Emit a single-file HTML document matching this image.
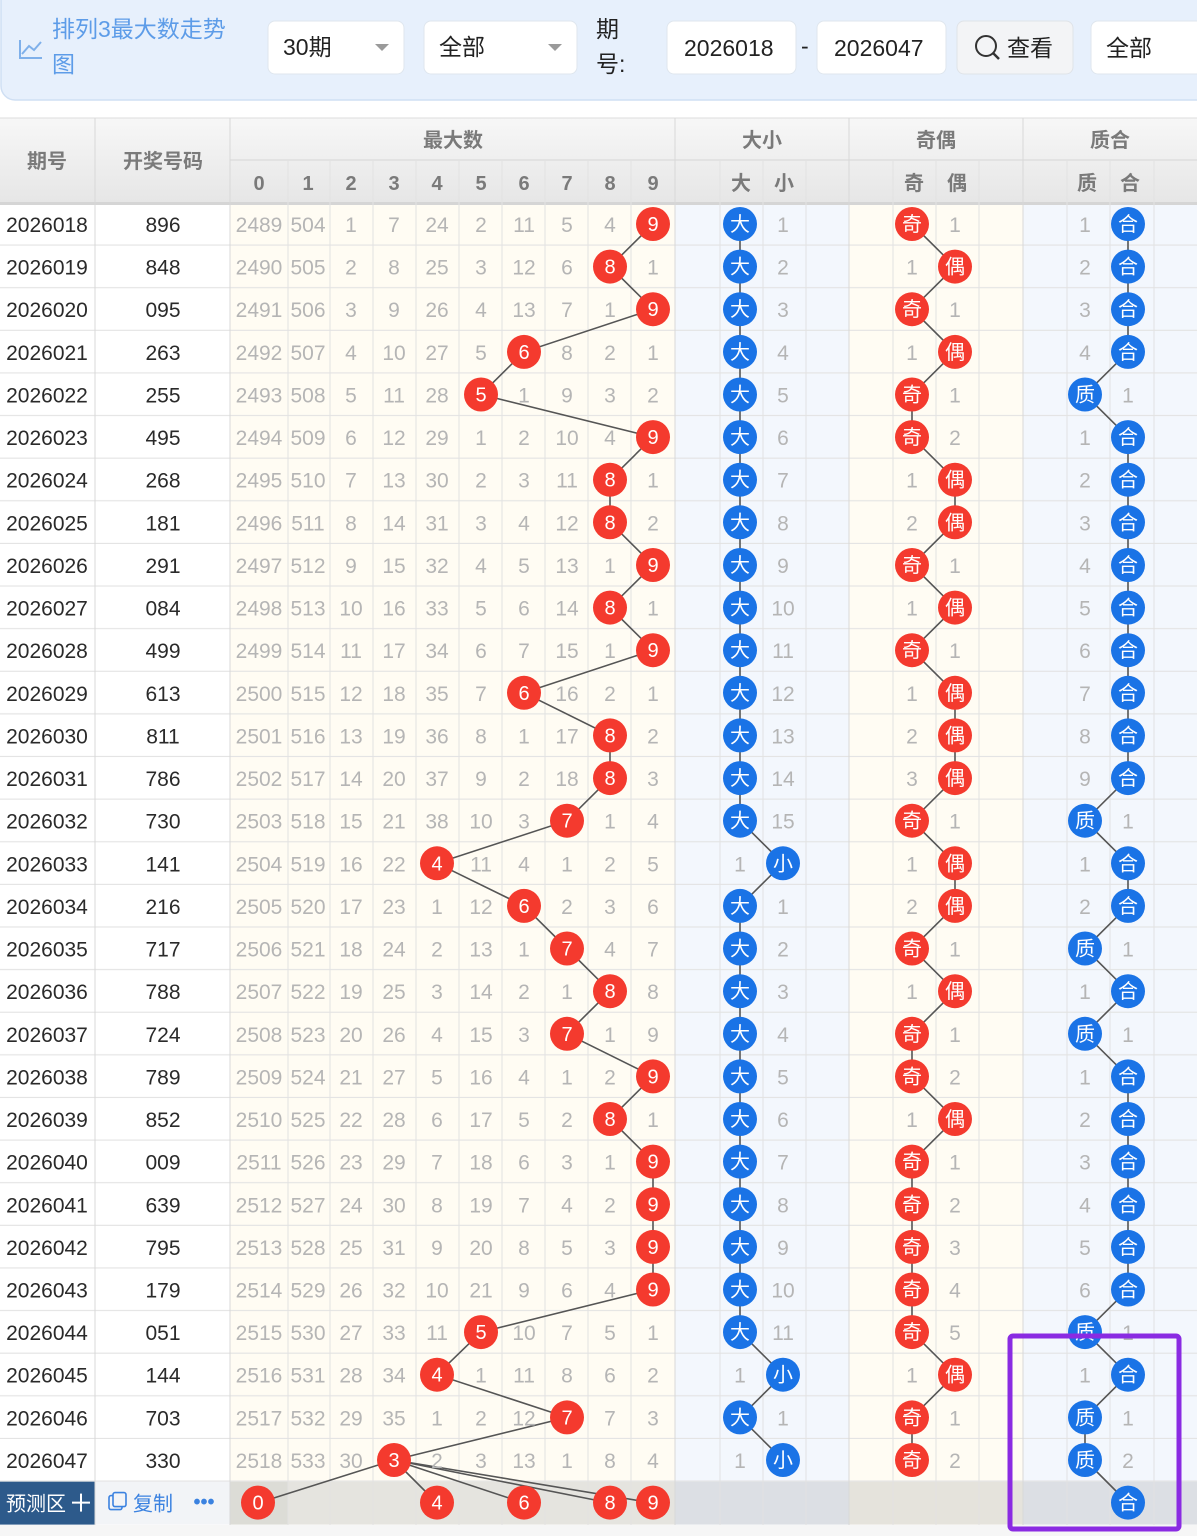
<!DOCTYPE html>
<html><head><meta charset="utf-8">
<style>
html,body{margin:0;padding:0;background:#fff;}
svg{display:block;}
text{font-family:"Liberation Sans","Noto Sans CJK SC",sans-serif;font-size:21px;text-anchor:middle;fill:#b5b5b5;}
text.k{fill:#2a2a2a;}
text.w{fill:#fff;font-size:20px;}
text.h{fill:#7a7a7a;font-weight:bold;font-size:20px;}
text.t{text-anchor:start;fill:#222;font-size:23px;}
circle{r:17px;}
circle.r{fill:#f43a2e;}
circle.b{fill:#1a73e6;}
g.row text{dominant-baseline:auto;}
</style></head><body>
<svg width="1197" height="1536" viewBox="0 0 1197 1536" xmlns="http://www.w3.org/2000/svg">
<defs>
<linearGradient id="hg" x1="0" y1="0" x2="0" y2="1"><stop offset="0" stop-color="#f7f7f7"/><stop offset="1" stop-color="#e6e6e6"/></linearGradient>
<pattern id="hl" x="0" y="203" width="1197" height="42.62" patternUnits="userSpaceOnUse"><line x1="0" y1="42.1" x2="1197" y2="42.1" stroke="#e3e3e3" stroke-width="1.2"/></pattern>
</defs>
<!-- top bar -->
<rect x="1" y="-20" width="1230" height="120" rx="14" fill="#e7f0fc" stroke="#cfdff3" stroke-width="1.5"/>
<polyline points="20,40 20,58 42,58" fill="none" stroke="#7fb0ea" stroke-width="2"/>
<polyline points="22,54 29,46 34,50 41,42" fill="none" stroke="#7fb0ea" stroke-width="2"/>
<text class="t" x="52" y="37" style="fill:#5d9ce8">排列3最大数走势</text>
<text class="t" x="52" y="72" style="fill:#5d9ce8">图</text>
<rect x="268" y="21" width="136" height="53" rx="7" fill="#fff" stroke="#dfe6ee"/>
<text class="t" x="283" y="55">30期</text>
<polygon points="375,44 389,44 382,51" fill="#9a9a9a"/>
<rect x="424" y="21" width="153" height="53" rx="7" fill="#fff" stroke="#dfe6ee"/>
<text class="t" x="439" y="55">全部</text>
<polygon points="548,44 562,44 555,51" fill="#9a9a9a"/>
<text class="t" x="596" y="37">期</text>
<text class="t" x="596" y="72">号:</text>
<rect x="667" y="21" width="129" height="53" rx="7" fill="#fff" stroke="#dfe6ee"/>
<text class="t" x="684" y="56">2026018</text>
<text class="t" x="801" y="54">-</text>
<rect x="817" y="21" width="129" height="53" rx="7" fill="#fff" stroke="#dfe6ee"/>
<text class="t" x="834" y="56">2026047</text>
<rect x="957" y="21" width="116" height="53" rx="7" fill="#f3f4f6" stroke="#dfe3e8"/>
<circle cx="986" cy="46" style="r:10px" fill="none" stroke="#333" stroke-width="2"/>
<line x1="993" y1="53" x2="999" y2="59" stroke="#333" stroke-width="2.5"/>
<text class="t" x="1007" y="56">查看</text>
<rect x="1091" y="21" width="130" height="53" rx="7" fill="#fff" stroke="#dfe6ee"/>
<text class="t" x="1106" y="56">全部</text>
<!-- backgrounds -->
<rect x="0" y="203" width="230" height="1279" fill="#fff"/>
<rect x="230" y="203" width="445" height="1279" fill="#fffcf3"/>
<rect x="675" y="203" width="174" height="1279" fill="#f3f7fd"/>
<rect x="849" y="203" width="174" height="1279" fill="#fffcf3"/>
<rect x="1023" y="203" width="174" height="1279" fill="#f3f7fd"/>
<rect x="0" y="1481.6" width="95" height="43" fill="#2d5a8b"/>
<rect x="95" y="1481.6" width="135" height="43" fill="#f2f4f7"/>
<rect x="230" y="1481.6" width="58" height="43" fill="#dcdcd6"/>
<rect x="288" y="1481.6" width="387" height="43" fill="#e5e4df"/>
<rect x="675" y="1481.6" width="174" height="43" fill="#dcdfe4"/>
<rect x="849" y="1481.6" width="174" height="43" fill="#e5e3dc"/>
<rect x="1023" y="1481.6" width="174" height="43" fill="#dcdfe4"/>
<rect x="0" y="1525" width="1197" height="11" fill="#f6f6f6"/>
<rect x="0" y="203" width="1197" height="1279" fill="url(#hl)"/>
<!-- header -->
<rect x="0" y="118" width="1197" height="85" fill="url(#hg)"/>
<line x1="0" y1="118" x2="1197" y2="118" stroke="#dcdcdc"/>
<line x1="230" y1="160" x2="1197" y2="160" stroke="#d6d6d6"/>
<rect x="0" y="202" width="1197" height="3" fill="#d5d5d5"/>
<g stroke="#d8d8d8" stroke-width="1">
<line x1="95" y1="118" x2="95" y2="1525"/><line x1="230" y1="118" x2="230" y2="1525"/>
<line x1="675" y1="118" x2="675" y2="1525"/><line x1="849" y1="118" x2="849" y2="1525"/>
<line x1="1023" y1="118" x2="1023" y2="1525"/>
</g>
<g stroke="#e2e2e2" stroke-width="1">
<line x1="288" y1="160" x2="288" y2="1525"/><line x1="330" y1="160" x2="330" y2="1525"/>
<line x1="373" y1="160" x2="373" y2="1525"/><line x1="416" y1="160" x2="416" y2="1525"/>
<line x1="459" y1="160" x2="459" y2="1525"/><line x1="502" y1="160" x2="502" y2="1525"/>
<line x1="545" y1="160" x2="545" y2="1525"/><line x1="588" y1="160" x2="588" y2="1525"/>
<line x1="631" y1="160" x2="631" y2="1525"/><line x1="720" y1="160" x2="720" y2="1525"/>
<line x1="763" y1="160" x2="763" y2="1525"/><line x1="806" y1="160" x2="806" y2="1525"/>
<line x1="893" y1="160" x2="893" y2="1525"/><line x1="936" y1="160" x2="936" y2="1525"/>
<line x1="979" y1="160" x2="979" y2="1525"/><line x1="1067" y1="160" x2="1067" y2="1525"/>
<line x1="1110" y1="160" x2="1110" y2="1525"/><line x1="1154" y1="160" x2="1154" y2="1525"/>
</g>
<text class="h" x="47" y="168">期号</text>
<text class="h" x="163" y="168">开奖号码</text>
<text class="h" x="453" y="147">最大数</text>
<text class="h" x="762" y="147">大小</text>
<text class="h" x="936" y="147">奇偶</text>
<text class="h" x="1110" y="147">质合</text>
<text class="h" x="259" y="190">0</text><text class="h" x="308" y="190">1</text><text class="h" x="351" y="190">2</text><text class="h" x="394" y="190">3</text><text class="h" x="437" y="190">4</text><text class="h" x="481" y="190">5</text><text class="h" x="524" y="190">6</text><text class="h" x="567" y="190">7</text><text class="h" x="610" y="190">8</text><text class="h" x="653" y="190">9</text>
<text class="h" x="741" y="190">大</text><text class="h" x="784" y="190">小</text>
<text class="h" x="914" y="190">奇</text><text class="h" x="957" y="190">偶</text>
<text class="h" x="1087" y="190">质</text><text class="h" x="1130" y="190">合</text>
<!-- trend lines -->
<g fill="none" stroke="#555" stroke-width="1.6">
<polyline points="653,224 610,266.6 653,309.2 524,351.9 481,394.5 653,437.1 610,479.7 610,522.3 653,565 610,607.6 653,650.2 524,692.8 610,735.4 610,778.1 567,820.7 437,863.3 524,905.9 567,948.5 610,991.2 567,1033.8 653,1076.4 610,1119 653,1161.6 653,1204.3 653,1246.9 653,1289.5 481,1332.1 437,1374.7 567,1417.4 394,1460"/>
<line x1="394" y1="1460" x2="258" y2="1503"/><line x1="394" y1="1460" x2="437" y2="1503"/><line x1="394" y1="1460" x2="524" y2="1503"/><line x1="394" y1="1460" x2="610" y2="1503"/><line x1="394" y1="1460" x2="653" y2="1503"/>
<polyline points="740,224 740,820.7 783,863.3 740,905.9 740,1332.1 783,1374.7 740,1417.4 783,1460"/>
<polyline points="912,224 955,266.6 912,309.2 955,351.9 912,394.5 912,437.1 955,479.7 955,522.3 912,565 955,607.6 912,650.2 955,692.8 955,735.4 955,778.1 912,820.7 955,863.3 955,905.9 912,948.5 955,991.2 912,1033.8 912,1076.4 955,1119 912,1161.6 912,1204.3 912,1246.9 912,1289.5 912,1332.1 955,1374.7 912,1417.4 912,1460"/>
<polyline points="1128,224 1128,351.9 1085,394.5 1128,437.1 1128,778.1 1085,820.7 1128,863.3 1128,905.9 1085,948.5 1128,991.2 1085,1033.8 1128,1076.4 1128,1289.5 1085,1332.1 1128,1374.7 1085,1417.4 1085,1460 1128,1503"/>
</g>
<!-- rows -->
<g class="row" transform="translate(0,203)"><text class="k" x="47" y="29">2026018</text><text class="k" x="163" y="29">896</text><text x="259" y="29">2489</text><text x="308" y="29">504</text><text x="351" y="29">1</text><text x="394" y="29">7</text><text x="437" y="29">24</text><text x="481" y="29">2</text><text x="524" y="29">11</text><text x="567" y="29">5</text><text x="610" y="29">4</text><circle class="r" cx="653" cy="21"/><text class="w" x="653" y="28">9</text><circle class="b" cx="740" cy="21"/><text class="w" x="740" y="28">大</text><text x="783" y="29">1</text><circle class="r" cx="912" cy="21"/><text class="w" x="912" y="28">奇</text><text x="955" y="29">1</text><text x="1085" y="29">1</text><circle class="b" cx="1128" cy="21"/><text class="w" x="1128" y="28">合</text></g>
<g class="row" transform="translate(0,245.6)"><text class="k" x="47" y="29">2026019</text><text class="k" x="163" y="29">848</text><text x="259" y="29">2490</text><text x="308" y="29">505</text><text x="351" y="29">2</text><text x="394" y="29">8</text><text x="437" y="29">25</text><text x="481" y="29">3</text><text x="524" y="29">12</text><text x="567" y="29">6</text><circle class="r" cx="610" cy="21"/><text class="w" x="610" y="28">8</text><text x="653" y="29">1</text><circle class="b" cx="740" cy="21"/><text class="w" x="740" y="28">大</text><text x="783" y="29">2</text><text x="912" y="29">1</text><circle class="r" cx="955" cy="21"/><text class="w" x="955" y="28">偶</text><text x="1085" y="29">2</text><circle class="b" cx="1128" cy="21"/><text class="w" x="1128" y="28">合</text></g>
<g class="row" transform="translate(0,288.2)"><text class="k" x="47" y="29">2026020</text><text class="k" x="163" y="29">095</text><text x="259" y="29">2491</text><text x="308" y="29">506</text><text x="351" y="29">3</text><text x="394" y="29">9</text><text x="437" y="29">26</text><text x="481" y="29">4</text><text x="524" y="29">13</text><text x="567" y="29">7</text><text x="610" y="29">1</text><circle class="r" cx="653" cy="21"/><text class="w" x="653" y="28">9</text><circle class="b" cx="740" cy="21"/><text class="w" x="740" y="28">大</text><text x="783" y="29">3</text><circle class="r" cx="912" cy="21"/><text class="w" x="912" y="28">奇</text><text x="955" y="29">1</text><text x="1085" y="29">3</text><circle class="b" cx="1128" cy="21"/><text class="w" x="1128" y="28">合</text></g>
<g class="row" transform="translate(0,330.9)"><text class="k" x="47" y="29">2026021</text><text class="k" x="163" y="29">263</text><text x="259" y="29">2492</text><text x="308" y="29">507</text><text x="351" y="29">4</text><text x="394" y="29">10</text><text x="437" y="29">27</text><text x="481" y="29">5</text><circle class="r" cx="524" cy="21"/><text class="w" x="524" y="28">6</text><text x="567" y="29">8</text><text x="610" y="29">2</text><text x="653" y="29">1</text><circle class="b" cx="740" cy="21"/><text class="w" x="740" y="28">大</text><text x="783" y="29">4</text><text x="912" y="29">1</text><circle class="r" cx="955" cy="21"/><text class="w" x="955" y="28">偶</text><text x="1085" y="29">4</text><circle class="b" cx="1128" cy="21"/><text class="w" x="1128" y="28">合</text></g>
<g class="row" transform="translate(0,373.5)"><text class="k" x="47" y="29">2026022</text><text class="k" x="163" y="29">255</text><text x="259" y="29">2493</text><text x="308" y="29">508</text><text x="351" y="29">5</text><text x="394" y="29">11</text><text x="437" y="29">28</text><circle class="r" cx="481" cy="21"/><text class="w" x="481" y="28">5</text><text x="524" y="29">1</text><text x="567" y="29">9</text><text x="610" y="29">3</text><text x="653" y="29">2</text><circle class="b" cx="740" cy="21"/><text class="w" x="740" y="28">大</text><text x="783" y="29">5</text><circle class="r" cx="912" cy="21"/><text class="w" x="912" y="28">奇</text><text x="955" y="29">1</text><circle class="b" cx="1085" cy="21"/><text class="w" x="1085" y="28">质</text><text x="1128" y="29">1</text></g>
<g class="row" transform="translate(0,416.1)"><text class="k" x="47" y="29">2026023</text><text class="k" x="163" y="29">495</text><text x="259" y="29">2494</text><text x="308" y="29">509</text><text x="351" y="29">6</text><text x="394" y="29">12</text><text x="437" y="29">29</text><text x="481" y="29">1</text><text x="524" y="29">2</text><text x="567" y="29">10</text><text x="610" y="29">4</text><circle class="r" cx="653" cy="21"/><text class="w" x="653" y="28">9</text><circle class="b" cx="740" cy="21"/><text class="w" x="740" y="28">大</text><text x="783" y="29">6</text><circle class="r" cx="912" cy="21"/><text class="w" x="912" y="28">奇</text><text x="955" y="29">2</text><text x="1085" y="29">1</text><circle class="b" cx="1128" cy="21"/><text class="w" x="1128" y="28">合</text></g>
<g class="row" transform="translate(0,458.7)"><text class="k" x="47" y="29">2026024</text><text class="k" x="163" y="29">268</text><text x="259" y="29">2495</text><text x="308" y="29">510</text><text x="351" y="29">7</text><text x="394" y="29">13</text><text x="437" y="29">30</text><text x="481" y="29">2</text><text x="524" y="29">3</text><text x="567" y="29">11</text><circle class="r" cx="610" cy="21"/><text class="w" x="610" y="28">8</text><text x="653" y="29">1</text><circle class="b" cx="740" cy="21"/><text class="w" x="740" y="28">大</text><text x="783" y="29">7</text><text x="912" y="29">1</text><circle class="r" cx="955" cy="21"/><text class="w" x="955" y="28">偶</text><text x="1085" y="29">2</text><circle class="b" cx="1128" cy="21"/><text class="w" x="1128" y="28">合</text></g>
<g class="row" transform="translate(0,501.3)"><text class="k" x="47" y="29">2026025</text><text class="k" x="163" y="29">181</text><text x="259" y="29">2496</text><text x="308" y="29">511</text><text x="351" y="29">8</text><text x="394" y="29">14</text><text x="437" y="29">31</text><text x="481" y="29">3</text><text x="524" y="29">4</text><text x="567" y="29">12</text><circle class="r" cx="610" cy="21"/><text class="w" x="610" y="28">8</text><text x="653" y="29">2</text><circle class="b" cx="740" cy="21"/><text class="w" x="740" y="28">大</text><text x="783" y="29">8</text><text x="912" y="29">2</text><circle class="r" cx="955" cy="21"/><text class="w" x="955" y="28">偶</text><text x="1085" y="29">3</text><circle class="b" cx="1128" cy="21"/><text class="w" x="1128" y="28">合</text></g>
<g class="row" transform="translate(0,544)"><text class="k" x="47" y="29">2026026</text><text class="k" x="163" y="29">291</text><text x="259" y="29">2497</text><text x="308" y="29">512</text><text x="351" y="29">9</text><text x="394" y="29">15</text><text x="437" y="29">32</text><text x="481" y="29">4</text><text x="524" y="29">5</text><text x="567" y="29">13</text><text x="610" y="29">1</text><circle class="r" cx="653" cy="21"/><text class="w" x="653" y="28">9</text><circle class="b" cx="740" cy="21"/><text class="w" x="740" y="28">大</text><text x="783" y="29">9</text><circle class="r" cx="912" cy="21"/><text class="w" x="912" y="28">奇</text><text x="955" y="29">1</text><text x="1085" y="29">4</text><circle class="b" cx="1128" cy="21"/><text class="w" x="1128" y="28">合</text></g>
<g class="row" transform="translate(0,586.6)"><text class="k" x="47" y="29">2026027</text><text class="k" x="163" y="29">084</text><text x="259" y="29">2498</text><text x="308" y="29">513</text><text x="351" y="29">10</text><text x="394" y="29">16</text><text x="437" y="29">33</text><text x="481" y="29">5</text><text x="524" y="29">6</text><text x="567" y="29">14</text><circle class="r" cx="610" cy="21"/><text class="w" x="610" y="28">8</text><text x="653" y="29">1</text><circle class="b" cx="740" cy="21"/><text class="w" x="740" y="28">大</text><text x="783" y="29">10</text><text x="912" y="29">1</text><circle class="r" cx="955" cy="21"/><text class="w" x="955" y="28">偶</text><text x="1085" y="29">5</text><circle class="b" cx="1128" cy="21"/><text class="w" x="1128" y="28">合</text></g>
<g class="row" transform="translate(0,629.2)"><text class="k" x="47" y="29">2026028</text><text class="k" x="163" y="29">499</text><text x="259" y="29">2499</text><text x="308" y="29">514</text><text x="351" y="29">11</text><text x="394" y="29">17</text><text x="437" y="29">34</text><text x="481" y="29">6</text><text x="524" y="29">7</text><text x="567" y="29">15</text><text x="610" y="29">1</text><circle class="r" cx="653" cy="21"/><text class="w" x="653" y="28">9</text><circle class="b" cx="740" cy="21"/><text class="w" x="740" y="28">大</text><text x="783" y="29">11</text><circle class="r" cx="912" cy="21"/><text class="w" x="912" y="28">奇</text><text x="955" y="29">1</text><text x="1085" y="29">6</text><circle class="b" cx="1128" cy="21"/><text class="w" x="1128" y="28">合</text></g>
<g class="row" transform="translate(0,671.8)"><text class="k" x="47" y="29">2026029</text><text class="k" x="163" y="29">613</text><text x="259" y="29">2500</text><text x="308" y="29">515</text><text x="351" y="29">12</text><text x="394" y="29">18</text><text x="437" y="29">35</text><text x="481" y="29">7</text><circle class="r" cx="524" cy="21"/><text class="w" x="524" y="28">6</text><text x="567" y="29">16</text><text x="610" y="29">2</text><text x="653" y="29">1</text><circle class="b" cx="740" cy="21"/><text class="w" x="740" y="28">大</text><text x="783" y="29">12</text><text x="912" y="29">1</text><circle class="r" cx="955" cy="21"/><text class="w" x="955" y="28">偶</text><text x="1085" y="29">7</text><circle class="b" cx="1128" cy="21"/><text class="w" x="1128" y="28">合</text></g>
<g class="row" transform="translate(0,714.4)"><text class="k" x="47" y="29">2026030</text><text class="k" x="163" y="29">811</text><text x="259" y="29">2501</text><text x="308" y="29">516</text><text x="351" y="29">13</text><text x="394" y="29">19</text><text x="437" y="29">36</text><text x="481" y="29">8</text><text x="524" y="29">1</text><text x="567" y="29">17</text><circle class="r" cx="610" cy="21"/><text class="w" x="610" y="28">8</text><text x="653" y="29">2</text><circle class="b" cx="740" cy="21"/><text class="w" x="740" y="28">大</text><text x="783" y="29">13</text><text x="912" y="29">2</text><circle class="r" cx="955" cy="21"/><text class="w" x="955" y="28">偶</text><text x="1085" y="29">8</text><circle class="b" cx="1128" cy="21"/><text class="w" x="1128" y="28">合</text></g>
<g class="row" transform="translate(0,757.1)"><text class="k" x="47" y="29">2026031</text><text class="k" x="163" y="29">786</text><text x="259" y="29">2502</text><text x="308" y="29">517</text><text x="351" y="29">14</text><text x="394" y="29">20</text><text x="437" y="29">37</text><text x="481" y="29">9</text><text x="524" y="29">2</text><text x="567" y="29">18</text><circle class="r" cx="610" cy="21"/><text class="w" x="610" y="28">8</text><text x="653" y="29">3</text><circle class="b" cx="740" cy="21"/><text class="w" x="740" y="28">大</text><text x="783" y="29">14</text><text x="912" y="29">3</text><circle class="r" cx="955" cy="21"/><text class="w" x="955" y="28">偶</text><text x="1085" y="29">9</text><circle class="b" cx="1128" cy="21"/><text class="w" x="1128" y="28">合</text></g>
<g class="row" transform="translate(0,799.7)"><text class="k" x="47" y="29">2026032</text><text class="k" x="163" y="29">730</text><text x="259" y="29">2503</text><text x="308" y="29">518</text><text x="351" y="29">15</text><text x="394" y="29">21</text><text x="437" y="29">38</text><text x="481" y="29">10</text><text x="524" y="29">3</text><circle class="r" cx="567" cy="21"/><text class="w" x="567" y="28">7</text><text x="610" y="29">1</text><text x="653" y="29">4</text><circle class="b" cx="740" cy="21"/><text class="w" x="740" y="28">大</text><text x="783" y="29">15</text><circle class="r" cx="912" cy="21"/><text class="w" x="912" y="28">奇</text><text x="955" y="29">1</text><circle class="b" cx="1085" cy="21"/><text class="w" x="1085" y="28">质</text><text x="1128" y="29">1</text></g>
<g class="row" transform="translate(0,842.3)"><text class="k" x="47" y="29">2026033</text><text class="k" x="163" y="29">141</text><text x="259" y="29">2504</text><text x="308" y="29">519</text><text x="351" y="29">16</text><text x="394" y="29">22</text><circle class="r" cx="437" cy="21"/><text class="w" x="437" y="28">4</text><text x="481" y="29">11</text><text x="524" y="29">4</text><text x="567" y="29">1</text><text x="610" y="29">2</text><text x="653" y="29">5</text><text x="740" y="29">1</text><circle class="b" cx="783" cy="21"/><text class="w" x="783" y="28">小</text><text x="912" y="29">1</text><circle class="r" cx="955" cy="21"/><text class="w" x="955" y="28">偶</text><text x="1085" y="29">1</text><circle class="b" cx="1128" cy="21"/><text class="w" x="1128" y="28">合</text></g>
<g class="row" transform="translate(0,884.9)"><text class="k" x="47" y="29">2026034</text><text class="k" x="163" y="29">216</text><text x="259" y="29">2505</text><text x="308" y="29">520</text><text x="351" y="29">17</text><text x="394" y="29">23</text><text x="437" y="29">1</text><text x="481" y="29">12</text><circle class="r" cx="524" cy="21"/><text class="w" x="524" y="28">6</text><text x="567" y="29">2</text><text x="610" y="29">3</text><text x="653" y="29">6</text><circle class="b" cx="740" cy="21"/><text class="w" x="740" y="28">大</text><text x="783" y="29">1</text><text x="912" y="29">2</text><circle class="r" cx="955" cy="21"/><text class="w" x="955" y="28">偶</text><text x="1085" y="29">2</text><circle class="b" cx="1128" cy="21"/><text class="w" x="1128" y="28">合</text></g>
<g class="row" transform="translate(0,927.5)"><text class="k" x="47" y="29">2026035</text><text class="k" x="163" y="29">717</text><text x="259" y="29">2506</text><text x="308" y="29">521</text><text x="351" y="29">18</text><text x="394" y="29">24</text><text x="437" y="29">2</text><text x="481" y="29">13</text><text x="524" y="29">1</text><circle class="r" cx="567" cy="21"/><text class="w" x="567" y="28">7</text><text x="610" y="29">4</text><text x="653" y="29">7</text><circle class="b" cx="740" cy="21"/><text class="w" x="740" y="28">大</text><text x="783" y="29">2</text><circle class="r" cx="912" cy="21"/><text class="w" x="912" y="28">奇</text><text x="955" y="29">1</text><circle class="b" cx="1085" cy="21"/><text class="w" x="1085" y="28">质</text><text x="1128" y="29">1</text></g>
<g class="row" transform="translate(0,970.2)"><text class="k" x="47" y="29">2026036</text><text class="k" x="163" y="29">788</text><text x="259" y="29">2507</text><text x="308" y="29">522</text><text x="351" y="29">19</text><text x="394" y="29">25</text><text x="437" y="29">3</text><text x="481" y="29">14</text><text x="524" y="29">2</text><text x="567" y="29">1</text><circle class="r" cx="610" cy="21"/><text class="w" x="610" y="28">8</text><text x="653" y="29">8</text><circle class="b" cx="740" cy="21"/><text class="w" x="740" y="28">大</text><text x="783" y="29">3</text><text x="912" y="29">1</text><circle class="r" cx="955" cy="21"/><text class="w" x="955" y="28">偶</text><text x="1085" y="29">1</text><circle class="b" cx="1128" cy="21"/><text class="w" x="1128" y="28">合</text></g>
<g class="row" transform="translate(0,1012.8)"><text class="k" x="47" y="29">2026037</text><text class="k" x="163" y="29">724</text><text x="259" y="29">2508</text><text x="308" y="29">523</text><text x="351" y="29">20</text><text x="394" y="29">26</text><text x="437" y="29">4</text><text x="481" y="29">15</text><text x="524" y="29">3</text><circle class="r" cx="567" cy="21"/><text class="w" x="567" y="28">7</text><text x="610" y="29">1</text><text x="653" y="29">9</text><circle class="b" cx="740" cy="21"/><text class="w" x="740" y="28">大</text><text x="783" y="29">4</text><circle class="r" cx="912" cy="21"/><text class="w" x="912" y="28">奇</text><text x="955" y="29">1</text><circle class="b" cx="1085" cy="21"/><text class="w" x="1085" y="28">质</text><text x="1128" y="29">1</text></g>
<g class="row" transform="translate(0,1055.4)"><text class="k" x="47" y="29">2026038</text><text class="k" x="163" y="29">789</text><text x="259" y="29">2509</text><text x="308" y="29">524</text><text x="351" y="29">21</text><text x="394" y="29">27</text><text x="437" y="29">5</text><text x="481" y="29">16</text><text x="524" y="29">4</text><text x="567" y="29">1</text><text x="610" y="29">2</text><circle class="r" cx="653" cy="21"/><text class="w" x="653" y="28">9</text><circle class="b" cx="740" cy="21"/><text class="w" x="740" y="28">大</text><text x="783" y="29">5</text><circle class="r" cx="912" cy="21"/><text class="w" x="912" y="28">奇</text><text x="955" y="29">2</text><text x="1085" y="29">1</text><circle class="b" cx="1128" cy="21"/><text class="w" x="1128" y="28">合</text></g>
<g class="row" transform="translate(0,1098)"><text class="k" x="47" y="29">2026039</text><text class="k" x="163" y="29">852</text><text x="259" y="29">2510</text><text x="308" y="29">525</text><text x="351" y="29">22</text><text x="394" y="29">28</text><text x="437" y="29">6</text><text x="481" y="29">17</text><text x="524" y="29">5</text><text x="567" y="29">2</text><circle class="r" cx="610" cy="21"/><text class="w" x="610" y="28">8</text><text x="653" y="29">1</text><circle class="b" cx="740" cy="21"/><text class="w" x="740" y="28">大</text><text x="783" y="29">6</text><text x="912" y="29">1</text><circle class="r" cx="955" cy="21"/><text class="w" x="955" y="28">偶</text><text x="1085" y="29">2</text><circle class="b" cx="1128" cy="21"/><text class="w" x="1128" y="28">合</text></g>
<g class="row" transform="translate(0,1140.6)"><text class="k" x="47" y="29">2026040</text><text class="k" x="163" y="29">009</text><text x="259" y="29">2511</text><text x="308" y="29">526</text><text x="351" y="29">23</text><text x="394" y="29">29</text><text x="437" y="29">7</text><text x="481" y="29">18</text><text x="524" y="29">6</text><text x="567" y="29">3</text><text x="610" y="29">1</text><circle class="r" cx="653" cy="21"/><text class="w" x="653" y="28">9</text><circle class="b" cx="740" cy="21"/><text class="w" x="740" y="28">大</text><text x="783" y="29">7</text><circle class="r" cx="912" cy="21"/><text class="w" x="912" y="28">奇</text><text x="955" y="29">1</text><text x="1085" y="29">3</text><circle class="b" cx="1128" cy="21"/><text class="w" x="1128" y="28">合</text></g>
<g class="row" transform="translate(0,1183.3)"><text class="k" x="47" y="29">2026041</text><text class="k" x="163" y="29">639</text><text x="259" y="29">2512</text><text x="308" y="29">527</text><text x="351" y="29">24</text><text x="394" y="29">30</text><text x="437" y="29">8</text><text x="481" y="29">19</text><text x="524" y="29">7</text><text x="567" y="29">4</text><text x="610" y="29">2</text><circle class="r" cx="653" cy="21"/><text class="w" x="653" y="28">9</text><circle class="b" cx="740" cy="21"/><text class="w" x="740" y="28">大</text><text x="783" y="29">8</text><circle class="r" cx="912" cy="21"/><text class="w" x="912" y="28">奇</text><text x="955" y="29">2</text><text x="1085" y="29">4</text><circle class="b" cx="1128" cy="21"/><text class="w" x="1128" y="28">合</text></g>
<g class="row" transform="translate(0,1225.9)"><text class="k" x="47" y="29">2026042</text><text class="k" x="163" y="29">795</text><text x="259" y="29">2513</text><text x="308" y="29">528</text><text x="351" y="29">25</text><text x="394" y="29">31</text><text x="437" y="29">9</text><text x="481" y="29">20</text><text x="524" y="29">8</text><text x="567" y="29">5</text><text x="610" y="29">3</text><circle class="r" cx="653" cy="21"/><text class="w" x="653" y="28">9</text><circle class="b" cx="740" cy="21"/><text class="w" x="740" y="28">大</text><text x="783" y="29">9</text><circle class="r" cx="912" cy="21"/><text class="w" x="912" y="28">奇</text><text x="955" y="29">3</text><text x="1085" y="29">5</text><circle class="b" cx="1128" cy="21"/><text class="w" x="1128" y="28">合</text></g>
<g class="row" transform="translate(0,1268.5)"><text class="k" x="47" y="29">2026043</text><text class="k" x="163" y="29">179</text><text x="259" y="29">2514</text><text x="308" y="29">529</text><text x="351" y="29">26</text><text x="394" y="29">32</text><text x="437" y="29">10</text><text x="481" y="29">21</text><text x="524" y="29">9</text><text x="567" y="29">6</text><text x="610" y="29">4</text><circle class="r" cx="653" cy="21"/><text class="w" x="653" y="28">9</text><circle class="b" cx="740" cy="21"/><text class="w" x="740" y="28">大</text><text x="783" y="29">10</text><circle class="r" cx="912" cy="21"/><text class="w" x="912" y="28">奇</text><text x="955" y="29">4</text><text x="1085" y="29">6</text><circle class="b" cx="1128" cy="21"/><text class="w" x="1128" y="28">合</text></g>
<g class="row" transform="translate(0,1311.1)"><text class="k" x="47" y="29">2026044</text><text class="k" x="163" y="29">051</text><text x="259" y="29">2515</text><text x="308" y="29">530</text><text x="351" y="29">27</text><text x="394" y="29">33</text><text x="437" y="29">11</text><circle class="r" cx="481" cy="21"/><text class="w" x="481" y="28">5</text><text x="524" y="29">10</text><text x="567" y="29">7</text><text x="610" y="29">5</text><text x="653" y="29">1</text><circle class="b" cx="740" cy="21"/><text class="w" x="740" y="28">大</text><text x="783" y="29">11</text><circle class="r" cx="912" cy="21"/><text class="w" x="912" y="28">奇</text><text x="955" y="29">5</text><circle class="b" cx="1085" cy="21"/><text class="w" x="1085" y="28">质</text><text x="1128" y="29">1</text></g>
<g class="row" transform="translate(0,1353.7)"><text class="k" x="47" y="29">2026045</text><text class="k" x="163" y="29">144</text><text x="259" y="29">2516</text><text x="308" y="29">531</text><text x="351" y="29">28</text><text x="394" y="29">34</text><circle class="r" cx="437" cy="21"/><text class="w" x="437" y="28">4</text><text x="481" y="29">1</text><text x="524" y="29">11</text><text x="567" y="29">8</text><text x="610" y="29">6</text><text x="653" y="29">2</text><text x="740" y="29">1</text><circle class="b" cx="783" cy="21"/><text class="w" x="783" y="28">小</text><text x="912" y="29">1</text><circle class="r" cx="955" cy="21"/><text class="w" x="955" y="28">偶</text><text x="1085" y="29">1</text><circle class="b" cx="1128" cy="21"/><text class="w" x="1128" y="28">合</text></g>
<g class="row" transform="translate(0,1396.4)"><text class="k" x="47" y="29">2026046</text><text class="k" x="163" y="29">703</text><text x="259" y="29">2517</text><text x="308" y="29">532</text><text x="351" y="29">29</text><text x="394" y="29">35</text><text x="437" y="29">1</text><text x="481" y="29">2</text><text x="524" y="29">12</text><circle class="r" cx="567" cy="21"/><text class="w" x="567" y="28">7</text><text x="610" y="29">7</text><text x="653" y="29">3</text><circle class="b" cx="740" cy="21"/><text class="w" x="740" y="28">大</text><text x="783" y="29">1</text><circle class="r" cx="912" cy="21"/><text class="w" x="912" y="28">奇</text><text x="955" y="29">1</text><circle class="b" cx="1085" cy="21"/><text class="w" x="1085" y="28">质</text><text x="1128" y="29">1</text></g>
<g class="row" transform="translate(0,1439)"><text class="k" x="47" y="29">2026047</text><text class="k" x="163" y="29">330</text><text x="259" y="29">2518</text><text x="308" y="29">533</text><text x="351" y="29">30</text><circle class="r" cx="394" cy="21"/><text class="w" x="394" y="28">3</text><text x="437" y="29">2</text><text x="481" y="29">3</text><text x="524" y="29">13</text><text x="567" y="29">1</text><text x="610" y="29">8</text><text x="653" y="29">4</text><text x="740" y="29">1</text><circle class="b" cx="783" cy="21"/><text class="w" x="783" y="28">小</text><circle class="r" cx="912" cy="21"/><text class="w" x="912" y="28">奇</text><text x="955" y="29">2</text><circle class="b" cx="1085" cy="21"/><text class="w" x="1085" y="28">质</text><text x="1128" y="29">2</text></g>
<!-- prediction row -->
<g class="row" transform="translate(0,1481.6)">
<text x="36" y="29" style="fill:#fff;font-size:20px">预测区</text>
<line x1="72" y1="21" x2="90" y2="21" stroke="#fff" stroke-width="2"/><line x1="81" y1="12" x2="81" y2="30" stroke="#fff" stroke-width="2"/>
<rect x="109" y="14" width="13" height="14" rx="2" fill="none" stroke="#3b82e0" stroke-width="1.6"/>
<rect x="113" y="11" width="13" height="14" rx="2" fill="#f2f4f7" stroke="#3b82e0" stroke-width="1.6"/>
<text x="153" y="29" style="fill:#3b82e0;font-size:20px">复制</text>
<text x="204" y="27" style="fill:#3b82e0;font-size:20px;font-weight:bold">•••</text>
<circle class="r" cx="258" cy="21"/><text class="w" x="258" y="28">0</text>
<circle class="r" cx="437" cy="21"/><text class="w" x="437" y="28">4</text>
<circle class="r" cx="524" cy="21"/><text class="w" x="524" y="28">6</text>
<circle class="r" cx="610" cy="21"/><text class="w" x="610" y="28">8</text>
<circle class="r" cx="653" cy="21"/><text class="w" x="653" y="28">9</text>
<circle class="b" cx="1128" cy="21"/><text class="w" x="1128" y="28">合</text>
</g>
<!-- highlight -->
<rect x="1010" y="1336" width="169" height="193" rx="3" fill="none" stroke="#8a2be2" stroke-width="5"/>
</svg>
</body></html>
